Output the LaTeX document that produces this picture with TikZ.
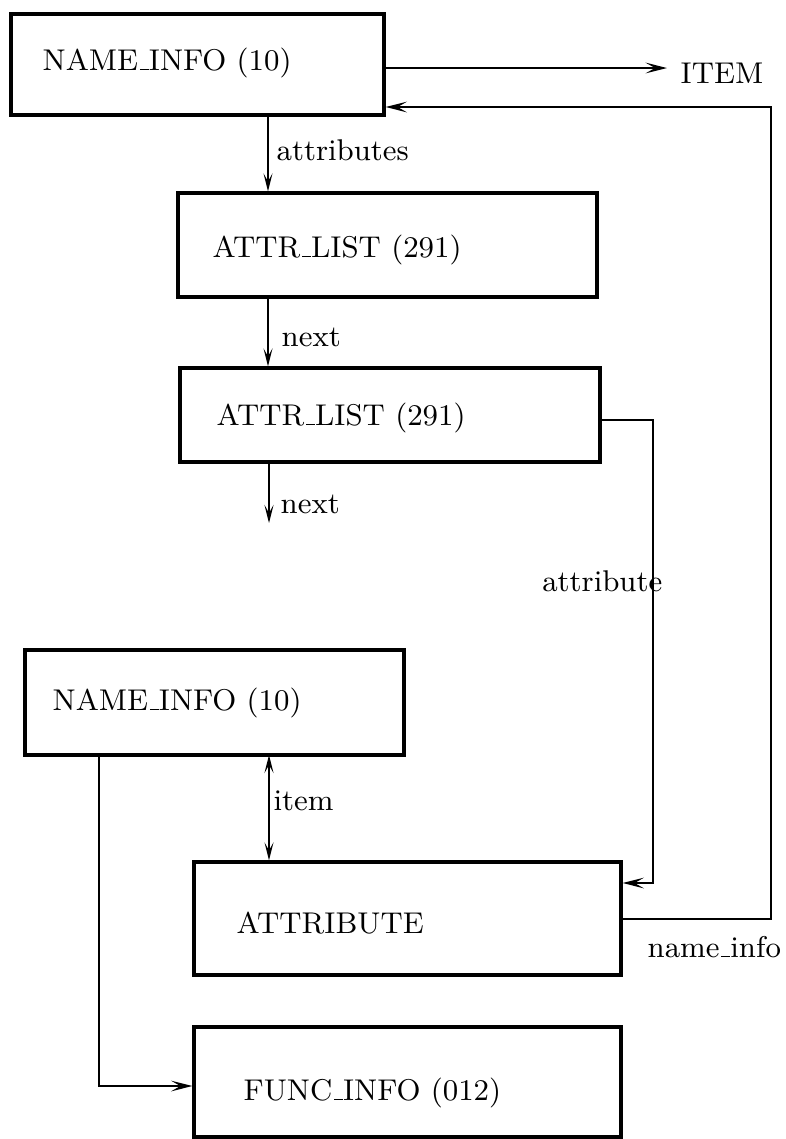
\documentclass[tikz,border=0pt]{standalone}
\usetikzlibrary{arrows.meta}
% classic short underscore rule, as in old LaTeX
\newcommand\usc{\leavevmode\kern.06em\vbox{\hrule width.3em}}
\begin{document}
\begin{tikzpicture}[x=0.3pt,y=-0.3pt,
  box/.style={draw,line width=0.95pt,rectangle,inner sep=0pt},
  txt/.style={anchor=base west,inner sep=0pt,font=\fontsize{9}{11}\selectfont},
  hhead/.tip={Stealth[length=6.4pt,width=3.2pt,inset=2.8pt]},
  vhead/.tip={Stealth[length=5.4pt,width=2.7pt,inset=2.4pt]},
  harrow/.style={line width=0.7pt,-hhead},
  varrow/.style={line width=0.6pt,-vhead},
  dblarrow/.style={line width=0.6pt,vhead-vhead}]
\useasboundingbox (0,0) rectangle (786,1139);

% record boxes
\node[box,minimum width=373*0.3pt,minimum height=101*0.3pt] (a) at (197.5,64.5) {};
\node[box,minimum width=419*0.3pt,minimum height=104*0.3pt] (b) at (387.5,245) {};
\node[box,minimum width=420*0.3pt,minimum height=94*0.3pt] (c) at (390,415) {};
\node[box,minimum width=379*0.3pt,minimum height=105*0.3pt] (d) at (214.5,702.5) {};
\node[box,minimum width=427*0.3pt,minimum height=113*0.3pt] (e) at (407.5,918.5) {};
\node[box,minimum width=427*0.3pt,minimum height=110*0.3pt] (f) at (407.5,1082) {};

% record titles
\node[txt] (ta) at (42,70) {NAME\usc INFO (10)};
\node[txt] (tb) at (212,257) {ATTR\usc LIST (291)};
\node[txt] (tc) at (216,425) {ATTR\usc LIST (291)};
\node[txt] (td) at (52,710) {NAME\usc INFO (10)};
\node[txt] (te) at (236,933) {ATTRIBUTE};
\node[txt] (tf) at (243,1100) {FUNC\usc INFO (012)};
\node[txt] (item) at (680,83) {ITEM};

% routing points
\coordinate (itip) at (667,68);
\coordinate (p1) at (268,115);
\coordinate (p2) at (268,297);
\coordinate (p3) at (269,462);
\coordinate (p3end) at (269,523);
\coordinate (p4) at (269,755);
\coordinate (q1) at (653,420);
\coordinate (q2) at (653,883);
\coordinate (r1) at (771,107);
\coordinate (r2) at (771,919);
\coordinate (s1) at (99,755);
\coordinate (s2) at (99,1086);

% connectors
\draw[harrow] (a.east |- itip) -- (itip);
\draw[varrow] (p1) -- (b.north -| p1);
\draw[varrow] (p2) -- (c.north -| p2);
\draw[varrow] (p3) -- (p3end);
\draw[harrow] (c.east |- q1) -- (q1) -- (q2) -- (e.east |- q2);
\draw[harrow] (e.east |- r2) -- (r2) -- (r1) -- (a.east |- r1);
\draw[dblarrow] (p4) -- (e.north -| p4);
\draw[harrow] (s1) -- (s2) -- (f.west |- s2);

% connector labels
\node[txt] (l1) at (276,160) {attributes};
\node[txt] (l2) at (281,346) {next};
\node[txt] (l3) at (280,513) {next};
\node[txt,anchor=base east] (l4) at (663,591) {attribute};
\node[txt] (l5) at (273,810) {item};
\node[txt] (l6) at (647,957) {name\usc info};
\end{tikzpicture}
\end{document}
